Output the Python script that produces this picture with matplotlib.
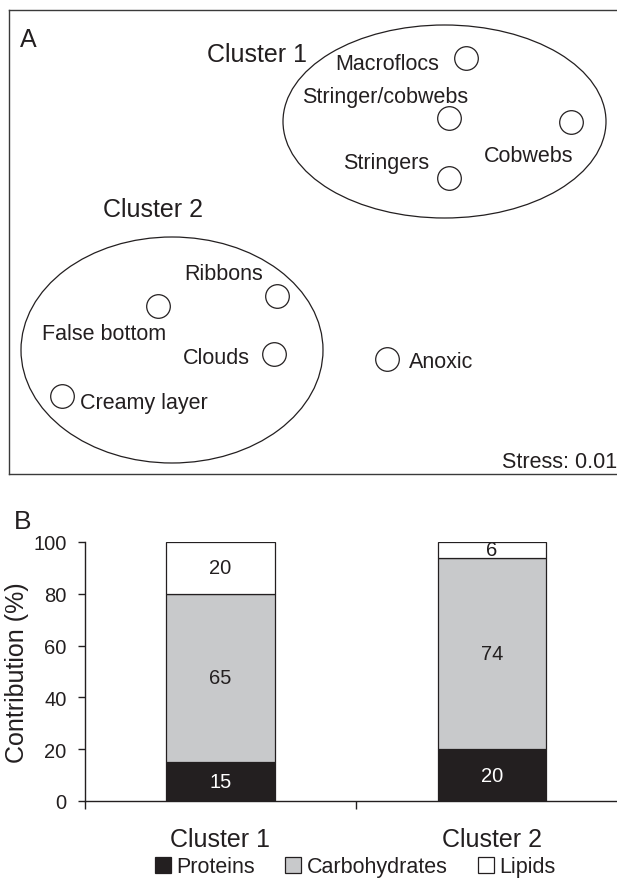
import matplotlib
matplotlib.use("Agg")
import matplotlib.pyplot as plt
from matplotlib.patches import Ellipse, Patch

plt.rcParams['font.family'] = ['Liberation Sans', 'DejaVu Sans']
INK = '#231f20'

# ---------------- Panel A data (NMDS coordinates) ----------------
sample_names = ['Macroflocs', 'Stringer/cobwebs', 'Cobwebs', 'Stringers',
                'Ribbons', 'False bottom', 'Clouds', 'Creamy layer', 'Anoxic']
nmds_x = [1.53, 1.36, 2.58, 1.36, -0.36, -1.55, -0.39, -2.51, 0.74]
nmds_y = [1.84, 1.24, 1.20, 0.64, -0.54, -0.64, -1.12, -1.54, -1.17]
cluster_names = ['Cluster 1', 'Cluster 2']
cluster_cx = [1.315, -1.41]
cluster_cy = [1.205, -1.08]
cluster_w = [3.23, 3.02]
cluster_h = [1.93, 2.26]
stress_value = 0.01

# ---------------- Panel B data ----------------
groups = ['Cluster 1', 'Cluster 2']
proteins = [15, 20]
carbohydrates = [65, 74]
lipids = [20, 6]

fig = plt.figure(figsize=(6.17, 8.79), dpi=100)

# ---------------- Panel A ----------------
axA = fig.add_axes([9/617, (879-475)/879, (625-9)/617, (475-11)/879])
axA.set_xlim(-3.04, 3.12)
axA.set_ylim(-2.32, 2.32)
axA.set_xticks([]); axA.set_yticks([])
for s in axA.spines.values():
    s.set_color('#3a3a3a'); s.set_linewidth(1.0)

for cx, cy, w, h in zip(cluster_cx, cluster_cy, cluster_w, cluster_h):
    axA.add_patch(Ellipse((cx, cy), w, h, fill=False, ec=INK, lw=0.9))

axA.plot(nmds_x, nmds_y, 'o', ms=17, mfc='white', mec=INK, mew=0.9, ls='none')

# label offsets (pixels) and alignment
lab_style = {
    'Macroflocs': (-27, -6, 'right'),
    'Stringer/cobwebs': (-64, 22, 'center'),
    'Cobwebs': (-42, -34, 'center'),
    'Stringers': (-20, 16, 'right'),
    'Ribbons': (-53, 22, 'center'),
    'False bottom': (-54, -27, 'center'),
    'Clouds': (-24, -3, 'right'),
    'Creamy layer': (18, -6, 'left'),
    'Anoxic': (22, -3, 'left'),
}
for name, x, y in zip(sample_names, nmds_x, nmds_y):
    dx, dy, ha = lab_style[name]
    axA.annotate(name, (x, y), xytext=(dx, dy), textcoords='offset pixels',
                 ha=ha, va='center', fontsize=15.5, color=INK)

cluster_label_x = [-0.56, -1.60]
cluster_label_y = [1.88, 0.33]
for name, x, y in zip(cluster_names, cluster_label_x, cluster_label_y):
    axA.text(x, y, name, ha='center', va='center', fontsize=18, color=INK)

axA.text(-2.85, 2.03, 'A', ha='center', va='center', fontsize=18, color=INK)
axA.text(3.04, -2.19, f'Stress: {stress_value:.2f}', ha='right', va='center',
         fontsize=15.5, color=INK)

# ---------------- Panel B ----------------
axB = fig.add_axes([84.75/617, (879-802)/879, (627.75-84.75)/617, (802-543)/879])
xpos = list(range(len(groups)))
bw = 0.40
c_prot = '#231f20'
c_carb = '#c8c9cb'
c_lip = '#ffffff'
bottom2 = [p + c for p, c in zip(proteins, carbohydrates)]
axB.bar(xpos, proteins, bw, color=c_prot, edgecolor=INK, lw=0.9, label='Proteins')
axB.bar(xpos, carbohydrates, bw, bottom=proteins, color=c_carb, edgecolor=INK, lw=0.9,
        label='Carbohydrates')
axB.bar(xpos, lipids, bw, bottom=bottom2, color=c_lip, edgecolor=INK, lw=0.9, label='Lipids')

for i in xpos:
    axB.text(i, proteins[i] / 2, str(proteins[i]), ha='center', va='center',
             fontsize=14.5, color='white')
    axB.text(i, proteins[i] + carbohydrates[i] / 2, str(carbohydrates[i]), ha='center',
             va='center', fontsize=14.5, color=INK)
    yl = bottom2[i] + lipids[i] / 2
    axB.text(i, yl, str(lipids[i]), ha='center', va='center', fontsize=14.5, color=INK)

axB.set_xlim(-0.5, 1.5)
axB.set_ylim(0, 100)
axB.spines['top'].set_visible(False)
axB.spines['right'].set_visible(False)
for s in ['left', 'bottom']:
    axB.spines[s].set_color(INK); axB.spines[s].set_linewidth(1.0)
axB.set_yticks([0, 20, 40, 60, 80, 100])
axB.tick_params(axis='y', direction='out', length=5, width=1.0, color=INK,
                labelsize=14.5, labelcolor=INK, pad=8)
axB.set_xticks([-0.5, 0.5, 1.5])
axB.set_xticklabels(['', '', ''])
axB.tick_params(axis='x', which='major', direction='out', length=5.5, width=1.0, color=INK)
axB.set_xticks(xpos, minor=True)
axB.set_xticklabels(groups, minor=True)
axB.tick_params(axis='x', which='minor', length=0, labelsize=18, labelcolor=INK, pad=19)
axB.set_ylabel('Contribution (%)', fontsize=18, color=INK)
axB.yaxis.set_label_coords((29 - 84.75) / 543, 0.5)

fig.text(23/617, (879-522)/879, 'B', ha='center', va='center', fontsize=19, color=INK)

handles = [Patch(fc=c_prot, ec=INK, lw=0.9), Patch(fc=c_carb, ec=INK, lw=0.9),
           Patch(fc=c_lip, ec=INK, lw=0.9)]
fig.legend(handles, ['Proteins', 'Carbohydrates', 'Lipids'], loc='center',
           bbox_to_anchor=(355/617, 11/879), ncol=3, frameon=False, fontsize=15.5,
           handlelength=0.75, handleheight=0.75, handletextpad=0.25, columnspacing=1.4,
           borderpad=0, labelcolor=INK)

fig.savefig('out.png', dpi=100)
